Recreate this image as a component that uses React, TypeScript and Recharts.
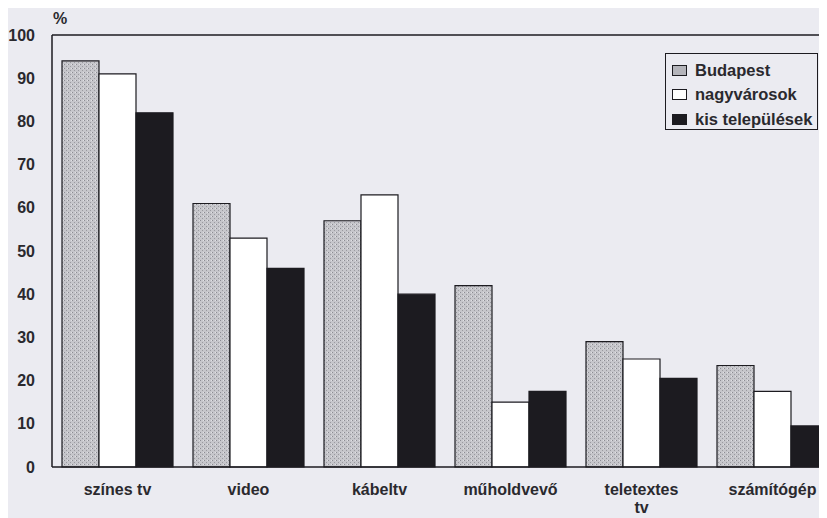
import React from "react";
import { BarChart, Bar, XAxis, YAxis, ReferenceLine } from "recharts";

const categories = ["színes tv", "video", "kábeltv", "műholdvevő", "teletextes\ntv", "számítógép"];
const budapest = [94, 61, 57, 42, 29, 23.5];
const nagyvarosok = [91, 53, 63, 15, 25, 17.5];
const kisTelepulesek = [82, 46, 40, 17.5, 20.5, 9.5];
const yTicks = [0, 10, 20, 30, 40, 50, 60, 70, 80, 90, 100];

const data = categories.map((name, i) => ({
  name,
  budapest: budapest[i],
  nagyvarosok: nagyvarosok[i],
  kis: kisTelepulesek[i],
}));

const font = "'Liberation Sans', Arial, sans-serif";
const ink = "#1c1b20";
const textInk = "#2a292e";

const CategoryTick = (props: any) => {
  const { x, y, payload } = props;
  const lines = String(payload.value).split("\n");
  return (
    <text x={x} y={y} textAnchor="middle" fill={textInk} fontSize={16} fontWeight="bold" fontFamily={font}>
      {lines.map((l, i) => (
        <tspan key={i} x={x} dy={i === 0 ? 20 : 18}>
          {l}
        </tspan>
      ))}
    </text>
  );
};

const legendItems = [
  { label: "Budapest", fill: "#b4b4ba" },
  { label: "nagyvárosok", fill: "#ffffff" },
  { label: "kis települések", fill: ink },
];

export default function App() {
  return (
    <div
      style={{
        position: "relative",
        width: 827,
        height: 518,
        margin: "-8px 0 0 -8px",
        overflow: "hidden",
        background: "#ebebf1",
        fontFamily: font,
      }}
    >
      <BarChart
        width={838}
        height={518}
        data={data}
        margin={{ top: 35, right: 0, bottom: 6, left: 0 }}
        barCategoryGap={10}
        barGap={0}
      >
        <defs>
          <pattern id="stipple" width="4" height="4" patternUnits="userSpaceOnUse">
            <rect width="4" height="4" fill="#c6c6cb" />
            <rect x="0" y="0" width="1" height="1" fill="#8c8c93" />
            <rect x="2" y="2" width="1" height="1" fill="#9a9aa0" />
            <rect x="3" y="0" width="1" height="1" fill="#e0e0e4" />
          </pattern>
        </defs>
        <XAxis
          dataKey="name"
          tick={<CategoryTick />}
          tickLine={false}
          axisLine={{ stroke: ink, strokeWidth: 1.5 }}
          interval={0}
          height={45}
        />
        <YAxis
          domain={[0, 100]}
          ticks={yTicks}
          width={52}
          tickLine={false}
          tickSize={0}
          tickMargin={17}
          axisLine={{ stroke: ink, strokeWidth: 1.5 }}
          tick={{ fill: textInk, fontSize: 16, fontWeight: "bold", fontFamily: font }}
        />
        <ReferenceLine y={100} stroke={ink} strokeWidth={1.5} />
        <Bar dataKey="budapest" fill="url(#stipple)" stroke={ink} strokeWidth={1.2} isAnimationActive={false} />
        <Bar dataKey="nagyvarosok" fill="#ffffff" stroke={ink} strokeWidth={1.2} isAnimationActive={false} />
        <Bar dataKey="kis" fill={ink} stroke={ink} strokeWidth={1.2} isAnimationActive={false} />
      </BarChart>
      <div style={{ position: "absolute", left: 53, top: 10, fontSize: 16, fontWeight: "bold", color: textInk }}>%</div>
      <div
        style={{
          position: "absolute",
          left: 665,
          top: 53,
          width: 153,
          height: 77,
          border: `1px solid ${ink}`,
          boxSizing: "border-box",
          padding: "4px 0 0 6px",
        }}
      >
        {legendItems.map((it) => (
          <div
            key={it.label}
            style={{ display: "flex", alignItems: "center", height: 24.5, fontSize: 16.5, fontWeight: "bold", color: textInk }}
          >
            <span
              style={{
                display: "inline-block",
                width: 13,
                height: 9,
                background: it.fill,
                border: `1px solid ${ink}`,
                marginRight: 8,
                flexShrink: 0,
              }}
            />
            {it.label}
          </div>
        ))}
      </div>
    </div>
  );
}
